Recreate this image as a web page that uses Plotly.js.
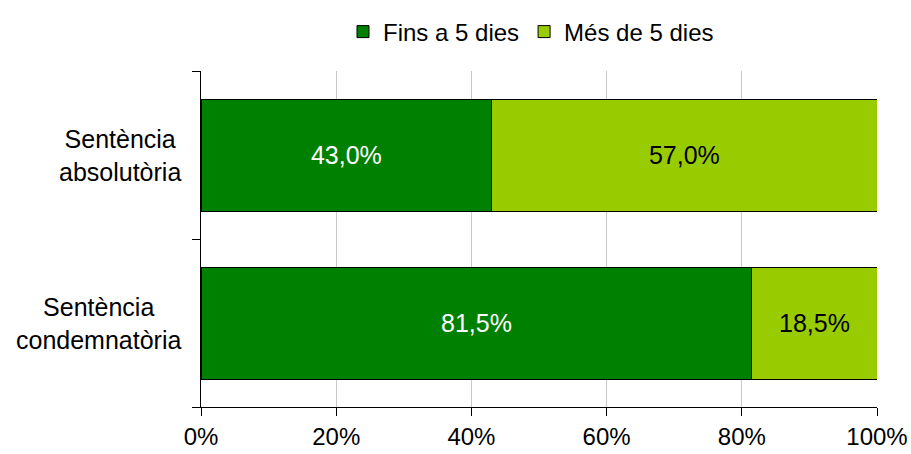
<!DOCTYPE html>
<html><head><meta charset="utf-8">
<script src="https://cdn.plot.ly/plotly-3.0.1.min.js"></script>
<style>html,body{margin:0;padding:0;background:#fff}#c{width:911px;height:454px}</style>
</head><body><div id="c"></div>
<script>
const categories = ["Sentència<br>condemnatòria", "Sentència<br>absolutòria"];
const seriesNames = ["Fins a 5 dies", "Més de 5 dies"];
const fins5 = [81.5, 43.0];
const mes5 = [18.5, 57.0];
const tickVals = [0, 20, 40, 60, 80, 100];
const tickText = ["0%", "20%", "40%", "60%", "80%", "100%"];

const fmt = v => v.toFixed(1).replace('.', ',') + '%';
const font = "Liberation Sans, Arial, sans-serif";

const data = [
  {type:'bar', orientation:'h', name:seriesNames[0], y:categories, x:fins5,
   marker:{color:'#008000', line:{color:'#000', width:1}},
   text:fins5.map(fmt), textposition:'inside', insidetextanchor:'middle', constraintext:'none',
   textfont:{color:'#fff', size:25, family:font}, hoverinfo:'none'},
  {type:'bar', orientation:'h', name:seriesNames[1], y:categories, x:mes5,
   marker:{color:'#99CC00', line:{color:'#000', width:1}},
   text:mes5.map(fmt), textposition:'inside', insidetextanchor:'middle', constraintext:'none',
   textfont:{color:'#000', size:25, family:font}, hoverinfo:'none'}
];

// category labels, centred line by line as in the reference
const catAnnotations = categories.map(c => ({
  text:c, x:0, xref:'paper', xanchor:'right', xshift:-18,
  y:c, yref:'y', yanchor:'middle', align:'center', showarrow:false,
  font:{size:25, family:font, color:'#000'}
}));

const layout = {
  width:911, height:454,
  margin:{l:201, r:34, t:71, b:47},
  barmode:'stack', bargap:1/3,
  paper_bgcolor:'#fff', plot_bgcolor:'#fff',
  font:{family:font, size:24, color:'#000'},
  showlegend:true,
  legend:{orientation:'h', x:0.5 - 8/676, xanchor:'center', y:1 - 32/454, yref:'container', yanchor:'middle',
          font:{size:24, family:font}, traceorder:'normal', itemwidth:30},
  annotations:catAnnotations,
  xaxis:{range:[0,100], tickvals:tickVals, ticktext:tickText, showgrid:true,
         gridcolor:'#c8c8c8', gridwidth:1, showline:true, linecolor:'#000', linewidth:1,
         ticks:'outside', ticklen:8, tickcolor:'#000', zeroline:false,
         tickfont:{size:24, family:font}, fixedrange:true},
  yaxis:{type:'category', categoryarray:categories, tickson:'boundaries', showline:true, linecolor:'#000', linewidth:1,
         ticks:'outside', ticklen:8, tickcolor:'#000', showgrid:false, showticklabels:false,
         fixedrange:true}
};

Plotly.newPlot('c', data, layout, {displayModeBar:false, staticPlot:true});
</script></body></html>
